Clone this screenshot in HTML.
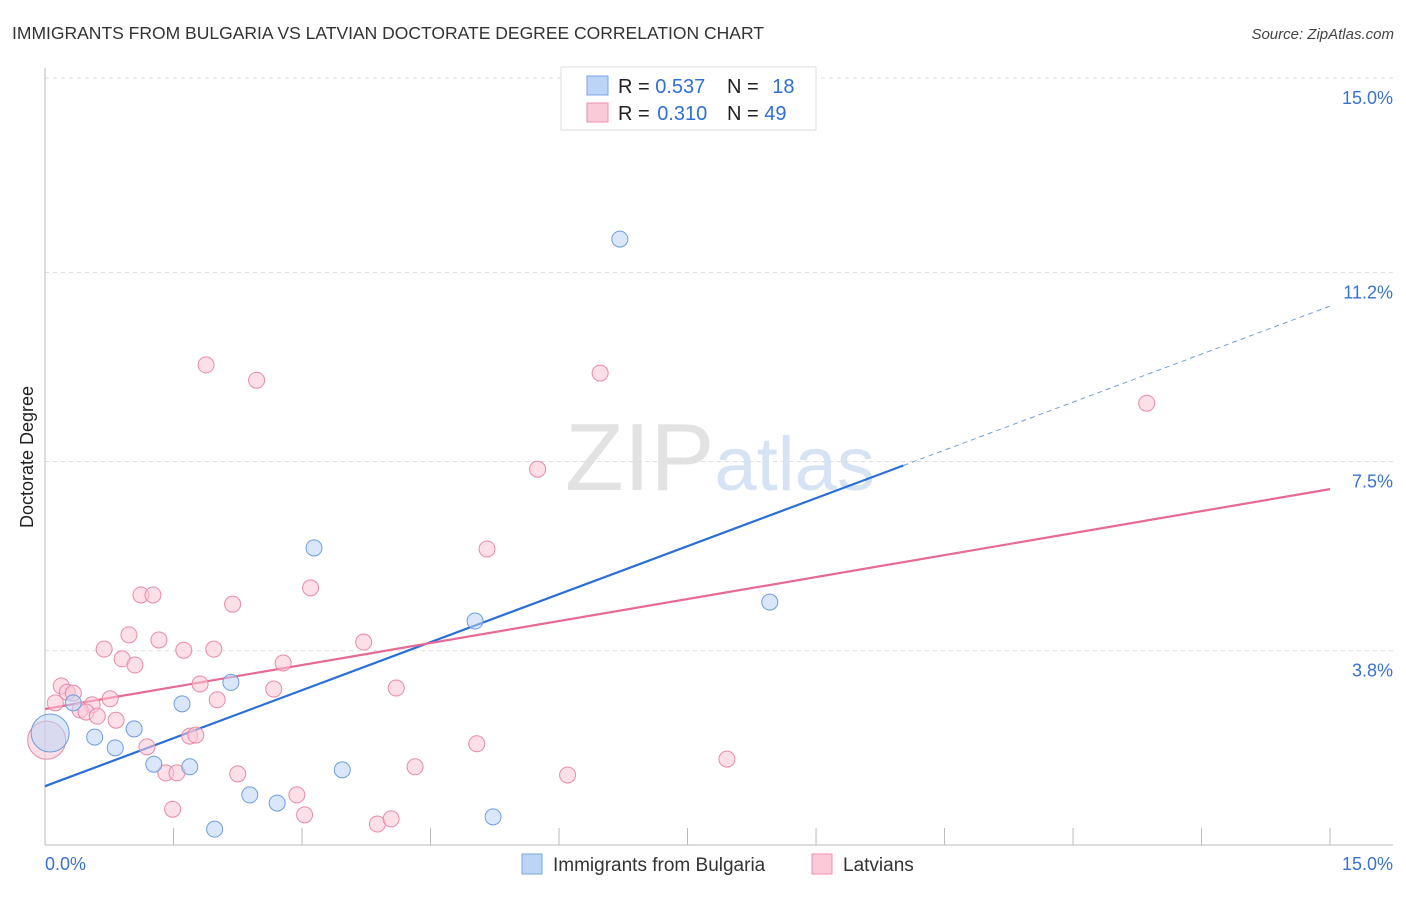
<!DOCTYPE html>
<html><head><meta charset="utf-8"><style>
body{margin:0;background:#fff;font-family:"Liberation Sans",sans-serif;}
svg text{font-family:"Liberation Sans",sans-serif;}
</style></head><body>
<svg id="chart" width="1406" height="892" xmlns="http://www.w3.org/2000/svg">
<text x="12" y="39" font-size="17.5" fill="#333">IMMIGRANTS FROM BULGARIA VS LATVIAN DOCTORATE DEGREE CORRELATION CHART</text>
<text x="1394" y="39" font-size="15" fill="#444" text-anchor="end" font-style="italic">Source: ZipAtlas.com</text>
<text x="720" y="490" font-size="96" text-anchor="middle" font-family="Liberation Serif"><tspan fill="#e2e2e2">ZIP</tspan><tspan fill="#d5e3f5" font-family="Liberation Sans" font-size="76">atlas</tspan></text>
<text transform="translate(33,457) rotate(-90)" font-size="18" fill="#222" text-anchor="middle">Doctorate Degree</text>
<g id="grid"></g><g id="axes"></g><g id="trends"></g><g id="points"></g>
<g>
<rect x="561" y="67" width="255" height="63" fill="#fff" stroke="#ddd"/>
<rect x="587" y="76" width="21" height="19" fill="#bcd4f5" stroke="#7aa6e0"/>
<rect x="587" y="103" width="21" height="19" fill="#fbcad8" stroke="#ec8fab"/>
<text x="618" y="93" font-size="20" fill="#222">R = <tspan fill="#2f6fd6">0.537</tspan></text>
<text x="727" y="93" font-size="20" fill="#222">N = <tspan fill="#2f6fd6" dx="8">18</tspan></text>
<text x="618" y="120" font-size="20" fill="#222">R = <tspan fill="#2f6fd6" dx="2">0.310</tspan></text>
<text x="727" y="120" font-size="20" fill="#222">N = <tspan fill="#2f6fd6">49</tspan></text>
</g>
<g>
<rect x="522" y="854" width="20" height="20" fill="#bcd4f5" stroke="#7aa6e0"/>
<text x="553" y="871" font-size="19" fill="#333">Immigrants from Bulgaria</text>
<rect x="812" y="854" width="20" height="20" fill="#fbcad8" stroke="#ec8fab"/>
<text x="843" y="871" font-size="19" fill="#333">Latvians</text>
</g>
</svg>
<script>
const yTicks=[3.8,7.5,11.2,15.0];
const yTickLabels=["3.8%","7.5%","11.2%","15.0%"];
const xTickCount=10;
const xLabels=["0.0%","15.0%"];
const blueX=[6.71,3.14,5.02,8.46,2.17,1.60,0.33,1.04,0.58,0.82,1.27,1.69,3.47,2.39,2.71,1.98,5.23,0.06];
const blueY=[11.85,5.81,4.38,4.75,3.18,2.76,2.78,2.27,2.11,1.90,1.58,1.53,1.47,0.98,0.82,0.31,0.55,2.19];
const pinkX=[1.88,2.47,6.48,12.86,5.75,5.16,3.10,1.12,1.26,2.19,0.98,1.33,3.72,0.69,1.62,1.97,0.90,1.05,2.78,0.19,1.81,0.26,0.33,0.76,2.67,4.10,2.01,0.55,0.41,0.48,0.61,0.83,0.12,1.19,1.69,1.76,5.04,7.96,4.32,1.41,1.54,2.25,6.10,1.49,2.94,3.03,3.88,4.04,0.02];
const pinkY=[9.39,9.09,9.23,8.64,7.35,5.79,5.03,4.89,4.89,4.71,4.11,4.01,3.97,3.83,3.81,3.83,3.64,3.52,3.56,3.11,3.15,2.99,2.97,2.86,3.05,3.07,2.84,2.74,2.64,2.60,2.52,2.44,2.78,1.92,2.13,2.15,1.98,1.68,1.53,1.41,1.41,1.39,1.37,0.70,0.98,0.59,0.41,0.51,2.05];
const blueTrend=[1.15,10.54];
const pinkTrend=[2.66,6.96];
const blueSolidEnd=10.02;
const NS="http://www.w3.org/2000/svg";
const sx=v=>45+v*85.67, sy=v=>845-v*51.13;
function mk(t,a,p){const e=document.createElementNS(NS,t);for(const k in a)e.setAttribute(k,a[k]);p.appendChild(e);return e;}
const grid=document.getElementById('grid'),axes=document.getElementById('axes'),tr=document.getElementById('trends'),pts=document.getElementById('points');
yTicks.forEach((t,i)=>{
 const l=mk('line',{x1:45,x2:1393,y1:sy(t),y2:sy(t),stroke:'#ddd','stroke-dasharray':'4,4'},grid);
 
 
 const tx=mk('text',{x:1393,y:sy(t)+26,'font-size':18,fill:'#3a72d0','text-anchor':'end'},grid);
 tx.textContent=yTickLabels[i];
 
 
});
const ax=mk('line',{x1:45,x2:1393,y1:845,y2:845,stroke:'#bbb'},axes);


const ay=mk('line',{x1:45,x2:45,y1:68,y2:845,stroke:'#bbb'},axes);


for(let i=0;i<=xTickCount;i++){const x=sx(i*1.5);
 const t=mk('line',{x1:x,x2:x,y1:828,y2:845,stroke:'#bbb'},axes);
 
 }
const xl0=mk('text',{x:45,y:870,'font-size':18,fill:'#3a72d0'},axes);xl0.textContent=xLabels[0];


const xl1=mk('text',{x:1393,y:870,'font-size':18,fill:'#3a72d0','text-anchor':'end'},axes);xl1.textContent=xLabels[1];


function pts_(X,Y,fill,stroke,name){X.forEach((x,i)=>{const big=(i===X.length-1);
 const c=mk('circle',{cx:sx(x),cy:sy(Y[i]),r:big?19:8,fill:fill,'fill-opacity':0.55,stroke:stroke,'stroke-width':1},pts);
 
 });}
pts_(pinkX,pinkY,'#fbc5d5','#e88aa8','latvians');
pts_(blueX,blueY,'#bcd4f5','#6f9ddd','bulgaria');
const bm=blueTrend[0]+(blueTrend[1]-blueTrend[0])*blueSolidEnd/15;
const b1=mk('line',{x1:sx(0),y1:sy(blueTrend[0]),x2:sx(blueSolidEnd),y2:sy(bm),stroke:'#2a6fd6','stroke-width':2.2},tr);


const b2=mk('line',{x1:sx(blueSolidEnd),y1:sy(bm),x2:sx(15),y2:sy(blueTrend[1]),stroke:'#6f9ddd','stroke-width':1,'stroke-dasharray':'5,4'},tr);


const p1=mk('line',{x1:sx(0),y1:sy(pinkTrend[0]),x2:sx(15),y2:sy(pinkTrend[1]),stroke:'#e66a95','stroke-width':2.2},tr);


</script>
</body></html>
